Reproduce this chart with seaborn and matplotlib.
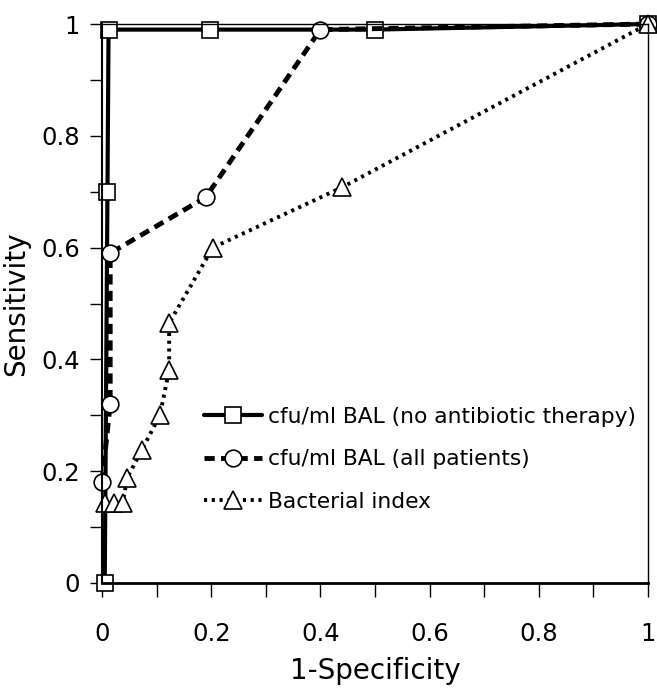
import matplotlib
matplotlib.use("Agg")
import matplotlib.pyplot as plt
import numpy as np
import seaborn as sns

# ── Data ─────────────────────────────────────────────────────────────────────
fpr_no_ab = [0.005, 0.01, 0.012, 0.198, 0.50, 1.0]
sens_no_ab = [0.0, 0.70, 0.99, 0.99, 0.99, 1.0]

fpr_all = [0.0, 0.015, 0.015, 0.19, 0.40, 1.0]
sens_all = [0.18, 0.32, 0.59, 0.69, 0.99, 1.0]

fpr_bi = [0.005, 0.022, 0.038, 0.046, 0.073, 0.106, 0.123, 0.123, 0.203, 0.44, 1.0]
sens_bi = [0.143, 0.143, 0.143, 0.188, 0.238, 0.30, 0.381, 0.465, 0.60, 0.708, 1.0]

labels = ["cfu/ml BAL (no antibiotic therapy)",
          "cfu/ml BAL (all patients)",
          "Bacterial index"]

tick_vals = np.round(np.arange(0, 1.01, 0.1), 1)
tick_labels = ["0", "", "0.2", "", "0.4", "", "0.6", "", "0.8", "", "1"]

sns.set_theme(style="ticks")
plt.rcParams["font.family"] = ["DejaVu Sans"]
plt.rcParams["text.color"] = "black"
plt.rcParams["axes.labelcolor"] = "black"

fig = plt.figure(figsize=(6.57, 6.88), dpi=100)
ax = fig.add_axes([102 / 657, 105 / 688, 546 / 657, 559 / 688])

common = dict(sort=False, estimator=None, color="black", ax=ax, clip_on=False,
              markerfacecolor="white", markeredgecolor="black", markeredgewidth=1.2)

sns.lineplot(x=fpr_no_ab, y=sens_no_ab, linewidth=3, marker="s", markersize=11,
             label=labels[0], **common)
sns.lineplot(x=fpr_all, y=sens_all, linewidth=3.5, linestyle=(0, (2.1, 1.3)),
             marker="o", markersize=12, label=labels[1], **common)
sns.lineplot(x=fpr_bi, y=sens_bi, linewidth=2.8, linestyle=(0, (0.8, 1.2)),
             marker="^", markersize=13, label=labels[2], **common)

ax.set_xlim(0, 1)
ax.set_ylim(0, 1)
ax.set_xticks(tick_vals)
ax.set_xticklabels(tick_labels)
ax.set_yticks(tick_vals)
ax.set_yticklabels(tick_labels)
ax.tick_params(axis="x", direction="out", length=10, width=1, labelsize=17.5, pad=18, colors="black")
ax.tick_params(axis="y", direction="out", length=9, width=1, labelsize=17.5, pad=7, colors="black")

for side, lw in [("bottom", 2), ("left", 1.5), ("right", 1), ("top", 1)]:
    ax.spines[side].set_visible(True)
    ax.spines[side].set_linewidth(lw)
    ax.spines[side].set_color("black")

ax.set_xlabel("1-Specificity", fontsize=20, labelpad=8)
ax.set_ylabel("Sensitivity", fontsize=20, labelpad=8)

leg = ax.legend(loc="upper left", bbox_to_anchor=(0.186, 0.315), frameon=False,
                fontsize=15.7, handlelength=2.7, handletextpad=0.25, labelspacing=1.03,
                borderpad=0, borderaxespad=0, numpoints=1)
for txt in leg.get_texts():
    txt.set_color("black")

fig.savefig("out.png", dpi=100, facecolor="white")
